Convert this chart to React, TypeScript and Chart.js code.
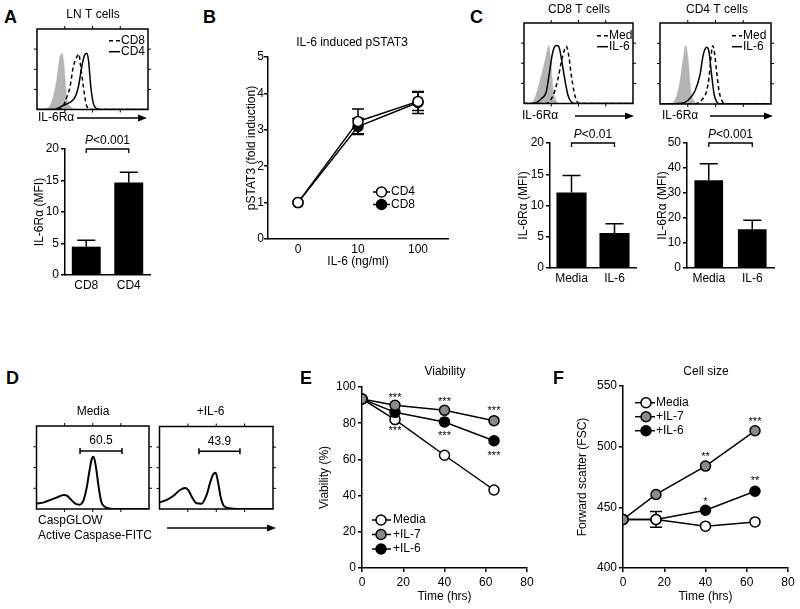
import React, { useEffect, useRef } from 'react';
import { Chart, registerables } from 'chart.js';

Chart.register(...registerables);

const FF = '"Liberation Sans", Arial, Helvetica, sans-serif';
const BLACK = '#000000';
const GRAY_FILL = '#b4b4b4';
const GRAY_MARK = '#8a8a8a';

// ---------------- Panel A ----------------
// histogram curves, x = position across the plot (0-100), y = % of plot height
const aHistIsotype: [number, number][] = [[0, 0], [5, 0], [10, 2], [14.5, 15], [17.6, 36], [20.6, 65], [22.7, 70], [24.5, 53], [26.7, 15], [29.7, 4], [32.7, 1], [36, 0], [100, 0]];
const aHistCD8: [number, number][] = [[0, 0], [17, 0], [20, 1], [23.6, 4], [26.7, 15], [29.7, 28], [32.7, 53], [35.8, 65], [37.6, 69], [39.4, 53], [41.8, 28], [44.2, 7], [46.4, 1], [49.4, 0], [100, 0]];
const aHistCD4: [number, number][] = [[0, 0], [15, 0], [17.6, 1], [23.6, 5], [29.7, 9], [34.2, 15], [37.3, 28], [40.3, 53], [42.7, 67], [44.8, 70], [46.4, 61], [48.5, 28], [50.9, 7], [53.9, 1], [57, 0], [100, 0]];
const aBarLabels = ['CD8', 'CD4'];
const aBarValues = [4.5, 14.7];
const aBarErrors = [1.0, 1.6];

// ---------------- Panel B ----------------
const bDoses = ['0', '10', '100'];
const bCD4 = [1, 3.23, 3.78];
const bCD4Err = [0, 0.34, 0.25];
const bCD8 = [1, 3.09, 3.75];
const bCD8Err = [0, 0.22, 0.3];

// ---------------- Panel C ----------------
const cCD8HistIsotype: [number, number][] = [[0, 0], [3.7, 0], [9.8, 6], [15.9, 35], [20.5, 60], [22.6, 72], [24.5, 56], [26.6, 19], [29.7, 3], [32.7, 0], [100, 0]];
const cCD8HistIL6: [number, number][] = [[0, 0], [8.3, 0], [15.9, 6], [20.5, 15], [23.5, 40], [26.6, 65], [29.7, 72], [31.8, 71], [34.3, 56], [37.3, 31], [40.4, 10], [43.4, 2], [46.5, 0], [100, 0]];
const cCD8HistMed: [number, number][] = [[0, 0], [20.5, 0], [25.1, 6], [28.1, 15], [31.2, 31], [34.3, 52], [36.7, 65], [38.8, 71], [41, 60], [43.4, 35], [45.9, 15], [48, 4], [51, 0], [100, 0]];
const cCD4HistIsotype: [number, number][] = [[0, 0], [7.5, 0], [13.5, 5], [18, 28], [21, 57], [23.1, 72], [25.5, 53], [27.9, 16], [30.9, 3], [34.5, 0], [100, 0]];
const cCD4HistIL6: [number, number][] = [[0, 0], [19.5, 1], [25.5, 5], [31.5, 16], [36, 36], [39, 61], [42, 70], [44.1, 65], [46.5, 36], [48.9, 11], [51, 3], [54, 0], [100, 0]];
const cCD4HistMed: [number, number][] = [[0, 0], [31.5, 0], [37.5, 5], [42, 16], [44.1, 32], [45.9, 57], [47.4, 72], [48.9, 65], [51, 40], [53.2, 16], [55.5, 5], [58.5, 0], [100, 0]];
const cBarLabels = ['Media', 'IL-6'];
const cCD8Values = [12.1, 5.6];
const cCD8Errors = [2.7, 1.5];
const cCD4Values = [35.1, 15.5];
const cCD4Errors = [6.6, 3.6];

// ---------------- Panel D ----------------
const dMediaHist: [number, number][] = [[0, 6.4], [6.5, 8], [12.4, 11], [18.3, 14], [24.2, 17], [27.1, 16], [30.1, 12], [34.5, 6.4], [38.3, 5.2], [41.9, 11], [44.8, 27], [47.2, 47], [49.3, 61], [50.7, 63], [52.8, 51], [55.2, 27], [57.5, 9], [61.1, 2.4], [65.5, 0.4], [71.4, 0], [100, 0]];
const dIL6Hist: [number, number][] = [[0, 8], [6.4, 11], [12.3, 16], [18.1, 23], [22.5, 25.5], [25.4, 23], [28.4, 15], [32.7, 7], [37.1, 6.5], [41.5, 17], [44.4, 31], [47.4, 42], [49.4, 44], [51.8, 31], [53.8, 15], [56.1, 5], [59.6, 1.6], [64.9, 0.4], [73.7, 0], [100, 0]];
const dMediaGate = { x1: 38.7, x2: 76, v: 70, label: '60.5' };
const dIL6Gate = { x1: 34.8, x2: 70.9, v: 70, label: '43.9' };

// ---------------- Panel E ----------------
const eTimes = [0, 16, 40, 64];
const eMedia = [93.4, 82, 62.3, 43.1];
const eIL7 = [93.4, 89.9, 87.1, 81.4];
const eIL6 = [93.4, 86, 80.7, 70.3];
const eStarX = [16, 16, 40, 40, 64, 64];
const eStarY = [95.8, 77.3, 93.4, 75, 88.4, 63.5];
const eStarText = ['***', '***', '***', '***', '***', '***'];

// ---------------- Panel F ----------------
const fTimes = [0, 16, 40, 64];
const fMedia = [440, 440, 434.5, 438];
const fIL7 = [440, 460.6, 484, 513.1];
const fIL6 = [440, 440, 447.6, 463.3];
const fIL6Err = [0, 6.5, 0, 0];
const fStarX = [40, 64, 40, 64];
const fStarY = [493.9, 523.3, 457.3, 474.6];
const fStarText = ['**', '***', '*', '**'];

// ------------------------------------------------
type Box = { left: number; top: number; width: number; height: number };
type Txt = { t: string; x: number; y: number; size?: number; align?: CanvasTextAlign };
type Decor = {
  frame?: number;
  texts?: Txt[];
  arrows?: { x1: number; x2: number; y: number }[];
  brackets?: { i1: number; i2: number; v: number; label: string }[];
  errors?: { ds: number; err: number[]; cap: number; both?: boolean }[];
  stars?: { x: number[]; y: number[]; t: string[]; size: number };
  gates?: { x1: number; x2: number; v: number; label: string }[];
  legend?: { kind: 'line' | 'marker'; items: { ds: number; label: string }[]; x1: number; x2: number; mx?: number; tx: number; ys: number[] };
};

function drawP(ctx: CanvasRenderingContext2D, label: string, cx: number, cy: number, size: number) {
  const first = label[0];
  const rest = label.slice(1);
  ctx.font = `italic ${size}px ${FF}`;
  const w1 = ctx.measureText(first).width;
  ctx.font = `${size}px ${FF}`;
  const w2 = ctx.measureText(rest).width;
  const x = cx - (w1 + w2) / 2;
  ctx.textAlign = 'left';
  ctx.textBaseline = 'middle';
  ctx.fillStyle = BLACK;
  ctx.font = `italic ${size}px ${FF}`;
  ctx.fillText(first, x, cy);
  ctx.font = `${size}px ${FF}`;
  ctx.fillText(rest, x + w1, cy);
}

function makeDecor(box: Box, d: Decor) {
  const px = (x: number) => x - box.left;
  const py = (y: number) => y - box.top;
  return {
    id: 'decor',
    beforeDatasetsDraw(chart: any) {
      const ctx: CanvasRenderingContext2D = chart.ctx;
      (d.errors || []).forEach((e) => {
        const meta = chart.getDatasetMeta(e.ds);
        const ys = chart.scales.y;
        const raw = chart.data.datasets[e.ds].data;
        e.err.forEach((er, i) => {
          if (!er) return;
          const el = meta.data[i];
          const r = raw[i];
          const v = typeof r === 'number' ? r : r.y;
          const yt = ys.getPixelForValue(v + er);
          const yb = e.both ? ys.getPixelForValue(v - er) : el.y;
          ctx.save();
          ctx.strokeStyle = BLACK;
          ctx.lineWidth = 1.5;
          ctx.beginPath();
          ctx.moveTo(el.x, yb);
          ctx.lineTo(el.x, yt);
          ctx.moveTo(el.x - e.cap, yt);
          ctx.lineTo(el.x + e.cap, yt);
          if (e.both) {
            ctx.moveTo(el.x - e.cap, yb);
            ctx.lineTo(el.x + e.cap, yb);
          }
          ctx.stroke();
          ctx.restore();
        });
      });
    },
    afterDatasetsDraw(chart: any) {
      const ctx: CanvasRenderingContext2D = chart.ctx;
      const a = chart.chartArea;
      ctx.save();
      ctx.strokeStyle = BLACK;
      ctx.fillStyle = BLACK;
      if (d.frame) {
        ctx.lineWidth = d.frame;
        ctx.strokeRect(a.left, a.top, a.right - a.left, a.bottom - a.top);
        ctx.beginPath();
        for (let k = 1; k < 4; k++) {
          const x = a.left + ((a.right - a.left) * k) / 4;
          ctx.moveTo(x, a.top); ctx.lineTo(x, a.top - 3);
          ctx.moveTo(x, a.bottom); ctx.lineTo(x, a.bottom + 3);
          const y = a.top + ((a.bottom - a.top) * k) / 4;
          ctx.moveTo(a.left, y); ctx.lineTo(a.left - 3, y);
          ctx.moveTo(a.right, y); ctx.lineTo(a.right + 3, y);
        }
        ctx.lineWidth = 1;
        ctx.stroke();
      }
      (d.brackets || []).forEach((b) => {
        const xs = chart.scales.x, ys = chart.scales.y;
        const x1 = xs.getPixelForValue(b.i1), x2 = xs.getPixelForValue(b.i2), y = ys.getPixelForValue(b.v);
        ctx.lineWidth = 1.3;
        ctx.beginPath();
        ctx.moveTo(x1, y + 4); ctx.lineTo(x1, y); ctx.lineTo(x2, y); ctx.lineTo(x2, y + 4);
        ctx.stroke();
        drawP(ctx, b.label, (x1 + x2) / 2, y - 8, 12);
      });
      (d.gates || []).forEach((g) => {
        const xs = chart.scales.x, ys = chart.scales.y;
        const x1 = xs.getPixelForValue(g.x1), x2 = xs.getPixelForValue(g.x2), y = ys.getPixelForValue(g.v);
        ctx.lineWidth = 1.5;
        ctx.beginPath();
        ctx.moveTo(x1, y); ctx.lineTo(x2, y);
        ctx.moveTo(x1, y - 3); ctx.lineTo(x1, y + 3);
        ctx.moveTo(x2, y - 3); ctx.lineTo(x2, y + 3);
        ctx.stroke();
        ctx.font = `12px ${FF}`;
        ctx.textAlign = 'center';
        ctx.textBaseline = 'middle';
        ctx.fillText(g.label, (x1 + x2) / 2, y - 10);
      });
      if (d.stars) {
        const s = d.stars;
        const xs = chart.scales.x, ys = chart.scales.y;
        ctx.font = `${s.size}px ${FF}`;
        ctx.textAlign = 'center';
        ctx.textBaseline = 'alphabetic';
        s.x.forEach((xv, i) => {
          ctx.fillText(s.t[i], xs.getPixelForValue(xv), ys.getPixelForValue(s.y[i]) + 0.575 * s.size);
        });
      }
      if (d.legend) {
        const L = d.legend;
        L.items.forEach((it, i) => {
          const ds = chart.data.datasets[it.ds];
          const y = py(L.ys[i]);
          ctx.save();
          ctx.strokeStyle = BLACK;
          if (L.kind === 'line') {
            ctx.setLineDash(ds.borderDash || []);
            ctx.lineWidth = ds.borderWidth || 1.5;
          } else {
            ctx.lineWidth = 1.5;
          }
          ctx.beginPath();
          ctx.moveTo(px(L.x1), y);
          ctx.lineTo(px(L.x2), y);
          ctx.stroke();
          ctx.setLineDash([]);
          if (L.kind === 'marker' && L.mx !== undefined) {
            ctx.beginPath();
            ctx.arc(px(L.mx), y, ds.pointRadius, 0, Math.PI * 2);
            ctx.fillStyle = ds.pointBackgroundColor;
            ctx.fill();
            ctx.lineWidth = ds.pointBorderWidth;
            ctx.stroke();
          }
          ctx.restore();
          ctx.fillStyle = BLACK;
          ctx.font = `12px ${FF}`;
          ctx.textAlign = 'left';
          ctx.textBaseline = 'middle';
          ctx.fillText(it.label, px(L.tx), y);
        });
      }
      (d.texts || []).forEach((t) => {
        ctx.fillStyle = BLACK;
        ctx.font = `${t.size || 12}px ${FF}`;
        ctx.textAlign = t.align || 'center';
        ctx.textBaseline = 'middle';
        ctx.fillText(t.t, px(t.x), py(t.y));
      });
      (d.arrows || []).forEach((ar) => {
        const y = py(ar.y);
        ctx.lineWidth = 1.5;
        ctx.beginPath();
        ctx.moveTo(px(ar.x1), y);
        ctx.lineTo(px(ar.x2) - 6, y);
        ctx.stroke();
        ctx.beginPath();
        ctx.moveTo(px(ar.x2), y);
        ctx.lineTo(px(ar.x2) - 9, y - 3.5);
        ctx.lineTo(px(ar.x2) - 9, y + 3.5);
        ctx.closePath();
        ctx.fill();
      });
      ctx.restore();
    },
  };
}

const pts = (arr: [number, number][]) => arr.map(([x, y]) => ({ x, y }));
const series = (xs: number[], ys: number[]) => xs.map((x, i) => ({ x, y: ys[i] }));

function histDataset(arr: [number, number][], kind: 'fill' | 'dash' | 'solid', width = 1.5) {
  const base: any = {
    data: pts(arr),
    pointRadius: 0,
    cubicInterpolationMode: 'monotone',
    borderColor: BLACK,
    borderWidth: width,
    fill: false,
  };
  if (kind === 'fill') {
    base.borderColor = GRAY_FILL;
    base.borderWidth = 0.5;
    base.backgroundColor = GRAY_FILL;
    base.fill = 'origin';
  }
  if (kind === 'dash') base.borderDash = [4, 3];
  return base;
}

function histConfig(box: Box, area: { l: number; r: number; t: number; b: number }, datasets: any[], decor: Decor) {
  return {
    type: 'line',
    data: { datasets },
    options: {
      animation: false,
      responsive: false,
      events: [],
      layout: { padding: { left: area.l - box.left, right: box.left + box.width - area.r, top: area.t - box.top, bottom: box.top + box.height - area.b } },
      scales: {
        x: { type: 'linear', min: 0, max: 100, display: false },
        y: { type: 'linear', min: 0, max: 100, display: false },
      },
      plugins: { legend: { display: false }, tooltip: { enabled: false } },
    },
    plugins: [makeDecor(box, decor)],
  };
}

const font12 = { size: 12, family: FF };

function yAxis(o: { min: number; max: number; step: number; title: string; titlePad: number; width: number; tickPad?: number }) {
  return {
    type: 'linear',
    min: o.min,
    max: o.max,
    ticks: { stepSize: o.step, color: BLACK, font: font12, padding: o.tickPad ?? 2 },
    grid: { display: true, drawOnChartArea: false, drawTicks: true, tickLength: 4, color: BLACK, lineWidth: 1.5 },
    border: { display: true, color: BLACK, width: 1.5 },
    title: { display: true, text: o.title, color: BLACK, font: font12, padding: { top: o.titlePad, bottom: 0 } },
    afterFit: (s: any) => { s.width = o.width; },
  };
}

function xCategory(height: number, title?: string, titlePad = 0) {
  return {
    type: 'category',
    offset: true,
    ticks: { color: BLACK, font: font12, padding: 3 },
    grid: { display: false, drawTicks: false, tickLength: 0 },
    border: { display: true, color: BLACK, width: 1.5 },
    title: title ? { display: true, text: title, color: BLACK, font: font12, padding: { top: 0, bottom: titlePad } } : { display: false },
    afterFit: (s: any) => { s.height = height; },
  };
}

function xLinear(height: number, title: string, titlePad: number) {
  return {
    type: 'linear',
    min: 0,
    max: 80,
    ticks: { stepSize: 20, color: BLACK, font: font12, padding: 3 },
    grid: { display: true, drawOnChartArea: false, drawTicks: true, tickLength: 4, color: BLACK, lineWidth: 1.5 },
    border: { display: true, color: BLACK, width: 1.5 },
    title: { display: true, text: title, color: BLACK, font: font12, padding: { top: 0, bottom: titlePad } },
    afterFit: (s: any) => { s.height = height; },
  };
}

function barConfig(box: Box, pad: { top: number; right: number }, labels: string[], values: number[], errors: number[], barPct: number, y: any, xh: number, decor: Decor) {
  return {
    type: 'bar',
    data: {
      labels,
      datasets: [{ data: values, backgroundColor: BLACK, borderWidth: 0, barPercentage: barPct, categoryPercentage: 1 }],
    },
    options: {
      animation: false,
      responsive: false,
      events: [],
      layout: { padding: { left: 0, right: pad.right, top: pad.top, bottom: 0 } },
      scales: { x: xCategory(xh), y },
      plugins: { legend: { display: false }, tooltip: { enabled: false } },
    },
    plugins: [makeDecor(box, { ...decor, errors: [{ ds: 0, err: errors, cap: 9 }] })],
  };
}

function markerDataset(data: any[], fill: string) {
  return {
    data,
    borderColor: BLACK,
    borderWidth: 1.5,
    pointRadius: 5,
    pointBorderWidth: 1.5,
    pointBorderColor: BLACK,
    pointBackgroundColor: fill,
    backgroundColor: fill,
    tension: 0,
    fill: false,
  };
}

// ---------------- layout boxes ----------------
const boxAHist: Box = { left: 30, top: 0, width: 125, height: 130 };
const boxABar: Box = { left: 20, top: 125, width: 140, height: 175 };
const boxB: Box = { left: 235, top: 30, width: 220, height: 245 };
const boxCHist1: Box = { left: 515, top: 0, width: 125, height: 120 };
const boxCHist2: Box = { left: 655, top: 0, width: 125, height: 120 };
const boxCBar1: Box = { left: 515, top: 120, width: 125, height: 175 };
const boxCBar2: Box = { left: 655, top: 120, width: 125, height: 175 };
const boxDHist1: Box = { left: 20, top: 400, width: 135, height: 145 };
const boxDHist2: Box = { left: 155, top: 400, width: 130, height: 145 };
const boxE: Box = { left: 315, top: 360, width: 225, height: 249 };
const boxF: Box = { left: 570, top: 360, width: 228, height: 249 };

const configs: { box: Box; make: () => any }[] = [
  {
    box: boxAHist,
    make: () =>
      histConfig(boxAHist, { l: 37, r: 148, t: 29, b: 109.5 },
        [histDataset(aHistCD8, 'dash'), histDataset(aHistCD4, 'solid'), histDataset(aHistIsotype, 'fill')],
        {
          frame: 1.5,
          texts: [
            { t: 'LN T cells', x: 93, y: 15 },
            { t: 'IL-6Rα', x: 38, y: 118, align: 'left' },
          ],
          arrows: [{ x1: 77, x2: 147, y: 118 }],
          legend: { kind: 'line', items: [{ ds: 0, label: 'CD8' }, { ds: 1, label: 'CD4' }], x1: 109, x2: 120, tx: 121, ys: [40.7, 51.7] },
        }),
  },
  {
    box: boxABar,
    make: () =>
      barConfig(boxABar, { top: 24, right: 10 }, aBarLabels, aBarValues, aBarErrors, 0.68,
        yAxis({ min: 0, max: 20, step: 5, title: 'IL-6Rα (MFI)', titlePad: 12.8, width: 45 }), 25,
        { brackets: [{ i1: 0, i2: 1, v: 20, label: 'P<0.001' }] }),
  },
  {
    box: boxB,
    make: () => ({
      type: 'line',
      data: {
        labels: bDoses,
        datasets: [markerDataset(bCD4, '#ffffff'), markerDataset(bCD8, BLACK)],
      },
      options: {
        animation: false,
        responsive: false,
        events: [],
        layout: { padding: { left: 0, right: 7, top: 27, bottom: 0 } },
        scales: {
          x: xCategory(36, 'IL-6 (ng/ml)', 5.8),
          y: yAxis({ min: 0, max: 5, step: 1, title: 'pSTAT3 (fold induction)', titlePad: 9.5, width: 33, tickPad: 0 }),
        },
        plugins: { legend: { display: false }, tooltip: { enabled: false } },
      },
      plugins: [
        makeDecor(boxB, {
          errors: [{ ds: 0, err: bCD4Err, cap: 6, both: true }, { ds: 1, err: bCD8Err, cap: 6, both: true }],
          texts: [{ t: 'IL-6 induced pSTAT3', x: 352, y: 43 }],
          legend: { kind: 'marker', items: [{ ds: 0, label: 'CD4' }, { ds: 1, label: 'CD8' }], x1: 373, x2: 390, mx: 381.5, tx: 391, ys: [192, 204.5] },
        }),
      ],
    }),
  },
  {
    box: boxCHist1,
    make: () =>
      histConfig(boxCHist1, { l: 524, r: 633, t: 23, b: 103.5 },
        [histDataset(cCD8HistMed, 'dash'), histDataset(cCD8HistIL6, 'solid'), histDataset(cCD8HistIsotype, 'fill')],
        {
          frame: 1.5,
          texts: [
            { t: 'CD8 T cells', x: 579, y: 10 },
            { t: 'IL-6Rα', x: 522, y: 116, align: 'left' },
          ],
          arrows: [{ x1: 575, x2: 634, y: 116 }],
          legend: { kind: 'line', items: [{ ds: 0, label: 'Med' }, { ds: 1, label: 'IL-6' }], x1: 597, x2: 608, tx: 609, ys: [35.7, 46.7] },
        }),
  },
  {
    box: boxCHist2,
    make: () =>
      histConfig(boxCHist2, { l: 660, r: 771, t: 23, b: 104 },
        [histDataset(cCD4HistMed, 'dash'), histDataset(cCD4HistIL6, 'solid'), histDataset(cCD4HistIsotype, 'fill')],
        {
          frame: 1.5,
          texts: [
            { t: 'CD4 T cells', x: 717, y: 10 },
            { t: 'IL-6Rα', x: 662, y: 116, align: 'left' },
          ],
          arrows: [{ x1: 710, x2: 773, y: 116 }],
          legend: { kind: 'line', items: [{ ds: 0, label: 'Med' }, { ds: 1, label: 'IL-6' }], x1: 732, x2: 742, tx: 743, ys: [35.7, 46.7] },
        }),
  },
  {
    box: boxCBar1,
    make: () =>
      barConfig(boxCBar1, { top: 23, right: 4 }, cBarLabels, cCD8Values, cCD8Errors, 0.7,
        yAxis({ min: 0, max: 20, step: 5, title: 'IL-6Rα (MFI)', titlePad: 1, width: 35 }), 27,
        { brackets: [{ i1: 0, i2: 1, v: 20, label: 'P<0.01' }] }),
  },
  {
    box: boxCBar2,
    make: () =>
      barConfig(boxCBar2, { top: 23, right: 6 }, cBarLabels, cCD4Values, cCD4Errors, 0.66,
        yAxis({ min: 0, max: 50, step: 10, title: 'IL-6Rα (MFI)', titlePad: 0, width: 32 }), 27,
        { brackets: [{ i1: 0, i2: 1, v: 50, label: 'P<0.001' }] }),
  },
  {
    box: boxDHist1,
    make: () =>
      histConfig(boxDHist1, { l: 36.5, r: 149, t: 426, b: 509 },
        [histDataset(dMediaHist, 'solid', 2)],
        {
          frame: 1.5,
          gates: [dMediaGate],
          texts: [
            { t: 'Media', x: 93, y: 412 },
            { t: 'CaspGLOW', x: 38, y: 521, align: 'left' },
            { t: 'Active Caspase-FITC', x: 38, y: 536, align: 'left' },
          ],
        }),
  },
  {
    box: boxDHist2,
    make: () =>
      histConfig(boxDHist2, { l: 159.5, r: 273, t: 426.5, b: 509 },
        [histDataset(dIL6Hist, 'solid', 2)],
        {
          frame: 1.5,
          gates: [dIL6Gate],
          texts: [{ t: '+IL-6', x: 210.5, y: 412 }],
          arrows: [{ x1: 167, x2: 276, y: 528 }],
        }),
  },
  {
    box: boxE,
    make: () => ({
      type: 'line',
      data: {
        datasets: [
          markerDataset(series(eTimes, eIL7), GRAY_MARK),
          markerDataset(series(eTimes, eIL6), BLACK),
          markerDataset(series(eTimes, eMedia), '#ffffff'),
        ],
      },
      options: {
        animation: false,
        responsive: false,
        events: [],
        layout: { padding: { left: 0, right: 13, top: 27, bottom: 0 } },
        scales: {
          x: xLinear(41, 'Time (hrs)', 4.8),
          y: yAxis({ min: 0, max: 100, step: 20, title: 'Viability (%)', titlePad: 2.8, width: 47 }),
        },
        plugins: { legend: { display: false }, tooltip: { enabled: false } },
      },
      plugins: [
        makeDecor(boxE, {
          texts: [{ t: 'Viability', x: 445, y: 372 }],
          stars: { x: eStarX, y: eStarY, t: eStarText, size: 11 },
          legend: { kind: 'marker', items: [{ ds: 2, label: 'Media' }, { ds: 0, label: '+IL-7' }, { ds: 1, label: '+IL-6' }], x1: 372, x2: 391, mx: 381, tx: 393, ys: [520, 534.5, 549] },
        }),
      ],
    }),
  },
  {
    box: boxF,
    make: () => ({
      type: 'line',
      data: {
        datasets: [
          markerDataset(series(fTimes, fIL7), GRAY_MARK),
          markerDataset(series(fTimes, fMedia), '#ffffff'),
          markerDataset(series(fTimes, fIL6), BLACK),
        ],
      },
      options: {
        animation: false,
        responsive: false,
        events: [],
        layout: { padding: { left: 0, right: 10, top: 26, bottom: 0 } },
        scales: {
          x: xLinear(41, 'Time (hrs)', 4.8),
          y: yAxis({ min: 400, max: 550, step: 50, title: 'Forward scatter (FSC)', titlePad: 5.5, width: 53 }),
        },
        plugins: { legend: { display: false }, tooltip: { enabled: false } },
      },
      plugins: [
        makeDecor(boxF, {
          errors: [{ ds: 2, err: fIL6Err, cap: 6, both: true }],
          texts: [{ t: 'Cell size', x: 706, y: 372 }],
          stars: { x: fStarX, y: fStarY, t: fStarText, size: 11 },
          legend: { kind: 'marker', items: [{ ds: 1, label: 'Media' }, { ds: 0, label: '+IL-7' }, { ds: 2, label: '+IL-6' }], x1: 635, x2: 655, mx: 646, tx: 656, ys: [402.7, 416.7, 430.7] },
        }),
      ],
    }),
  },
];

const panelLetters = [
  { t: 'A', x: 4, y: 7.8 },
  { t: 'B', x: 203, y: 7.8 },
  { t: 'C', x: 470, y: 7.8 },
  { t: 'D', x: 6, y: 368.8 },
  { t: 'E', x: 300, y: 368.8 },
  { t: 'F', x: 553, y: 368.8 },
];

function ChartCanvas({ box, make }: { box: Box; make: () => any }) {
  const ref = useRef<HTMLCanvasElement>(null);
  useEffect(() => {
    if (!ref.current) return;
    const chart = new Chart(ref.current, make());
    return () => chart.destroy();
  }, []);
  return (
    <canvas
      ref={ref}
      width={box.width}
      height={box.height}
      style={{ position: 'absolute', left: box.left, top: box.top, width: box.width, height: box.height }}
    />
  );
}

export default function App() {
  return (
    <div style={{ position: 'absolute', left: 0, top: 0, width: 800, height: 609, background: '#ffffff', overflow: 'hidden' }}>
      {configs.map((c, i) => (
        <ChartCanvas key={i} box={c.box} make={c.make} />
      ))}
      {panelLetters.map((l) => (
        <div
          key={l.t}
          style={{ position: 'absolute', left: l.x, top: l.y, font: `bold 18px ${FF}`, lineHeight: '18px', color: BLACK }}
        >
          {l.t}
        </div>
      ))}
    </div>
  );
}
